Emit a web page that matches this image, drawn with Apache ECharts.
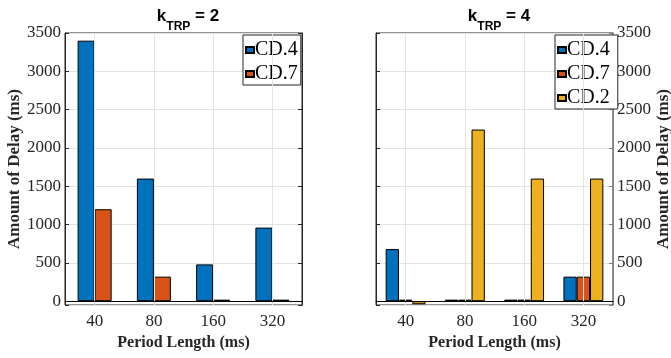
<!DOCTYPE html>
<html>
<head>
<meta charset="utf-8">
<script src="https://cdn.jsdelivr.net/npm/echarts@6/dist/echarts.min.js"></script>
<style>
  html, body { margin: 0; padding: 0; background: #fff; }
  #chart { width: 671px; height: 358px; }
</style>
</head>
<body>
<div id="chart"></div>
<script>
// period lengths (categories)
const periods = ['40', '80', '160', '320'];

// k_TRP = 2
const leftCD4 = [3400, 1600, 480, 960];
const leftCD7 = [1200, 320, 20, 20];

// k_TRP = 4
const rightCD4 = [680, 20, 20, 320];
const rightCD7 = [20, 20, 20, 320];
const rightCD2 = [-40, 2240, 1600, 1600];

const yMin = -50;
const yMax = 3500;
const yStep = 500;

const colors = { cd4: '#0072BD', cd7: '#D95319', cd2: '#EDB120' };
const serif = 'Liberation Serif';
const sans = 'Liberation Sans';
const dark = '#262626';
const gridColor = '#e3e3e3';

const chart = echarts.init(document.getElementById('chart'), null, { renderer: 'canvas' });

// subscript: bottom-aligned in a taller line, so it sits below "k"
const titleRich = {
  k: { fontFamily: sans, fontWeight: 'bold', fontSize: 17, color: '#000', verticalAlign: 'top', lineHeight: 18 },
  sub: { fontFamily: sans, fontWeight: 'bold', fontSize: 12, color: '#000', verticalAlign: 'bottom', lineHeight: 25 },
};

const xAxisBase = (gridIndex) => ({
  type: 'category',
  gridIndex,
  data: periods,
  axisLine: { show: true, lineStyle: { color: dark } },
  axisTick: { show: true, inside: true, alignWithLabel: true, length: 4, lineStyle: { color: dark } },
  axisLabel: { fontFamily: serif, fontSize: 17, color: dark, margin: 8 },
  splitLine: { show: false },
  name: 'Period Length (ms)',
  nameLocation: 'middle',
  nameGap: 30,
  nameTextStyle: { fontFamily: serif, fontWeight: 'bold', fontSize: 16, color: dark },
});

const yAxisBase = (gridIndex, position, withLabels, lineColor, nameGap) => ({
  type: 'value',
  gridIndex,
  position,
  min: yMin,
  max: yMax,
  minInterval: yStep,
  maxInterval: yStep,
  axisLine: { show: true, lineStyle: { color: lineColor } },
  axisTick: { show: true, inside: true, length: 4, lineStyle: { color: lineColor } },
  axisLabel: {
    show: withLabels,
    fontFamily: serif,
    fontSize: 17,
    color: dark,
    margin: 4,
    formatter: (v) => (v < 0 ? '' : String(v)),
  },
  splitLine: { show: withLabels, lineStyle: { color: gridColor } },
  name: withLabels ? 'Amount of Delay (ms)' : '',
  nameLocation: 'middle',
  nameRotate: 90,
  nameGap,
  nameTextStyle: { fontFamily: serif, fontWeight: 'bold', fontSize: 17, color: dark },
});

const zeroLine = {
  silent: true,
  symbol: 'none',
  label: { show: false },
  lineStyle: { color: '#000', width: 1, type: 'solid' },
  data: [{ yAxis: 0 }],
};

// vertical grid lines through the category centres
const vGrid = (xIdx, yIdx) => ({
  type: 'line',
  name: 'grid' + xIdx,
  xAxisIndex: xIdx,
  yAxisIndex: yIdx,
  data: [],
  z: 1,
  silent: true,
  markLine: {
    silent: true,
    symbol: 'none',
    label: { show: false },
    lineStyle: { color: gridColor, width: 1, type: 'solid' },
    data: periods.map((p) => ({ xAxis: p })),
  },
});

const barSeries = (name, data, color, xIdx, yIdx, width, withBase) => ({
  name,
  type: 'bar',
  xAxisIndex: xIdx,
  yAxisIndex: yIdx,
  data,
  z: 2,
  barWidth: width,
  barGap: '0%',
  itemStyle: { color, borderColor: '#000', borderWidth: 1 },
  emphasis: { disabled: true },
  markLine: withBase ? zeroLine : undefined,
});

const legendBase = (left, names) => ({
  left,
  top: 35,
  orient: 'vertical',
  data: names,
  icon: 'rect',
  itemWidth: 8,
  itemHeight: 6,
  itemGap: 4,
  padding: [5, 3, 1, 2],
  backgroundColor: '#fff',
  borderColor: dark,
  borderWidth: 1,
  textStyle: { fontFamily: serif, fontSize: 20, color: '#000', padding: [0, 0, 0, -4] },
});

chart.setOption({
  animation: false,
  title: [
    { text: '{k|k}{sub|TRP}{k| = 2}', left: 183, top: 3, textAlign: 'center', textStyle: { rich: titleRich } },
    { text: '{k|k}{sub|TRP}{k| = 4}', left: 494, top: 3, textAlign: 'center', textStyle: { rich: titleRich } },
  ],
  legend: [
    legendBase(243, ['CD.4', 'CD.7']),
    legendBase(555, ['CD.4 ', 'CD.7 ', 'CD.2']),
  ],
  grid: [
    { left: 65, right: 369, top: 33, bottom: 53, outerBoundsMode: 'none', containLabel: false, show: true, borderColor: dark, borderWidth: 1 },
    { left: 376, right: 58, top: 33, bottom: 53, outerBoundsMode: 'none', containLabel: false, show: true, borderColor: dark, borderWidth: 1 },
  ],
  xAxis: [xAxisBase(0), xAxisBase(1)],
  yAxis: [
    yAxisBase(0, 'left', true, dark, 42),
    yAxisBase(0, 'right', false, dark, 0),
    yAxisBase(1, 'right', true, '#808080', 40),
    yAxisBase(1, 'left', false, dark, 0),
  ],
  series: [
    vGrid(0, 0),
    vGrid(1, 2),
    barSeries('CD.4', leftCD4, colors.cd4, 0, 0, 17, true),
    barSeries('CD.7', leftCD7, colors.cd7, 0, 0, 17, false),
    barSeries('CD.4 ', rightCD4, colors.cd4, 1, 2, 13.3, true),
    barSeries('CD.7 ', rightCD7, colors.cd7, 1, 2, 13.3, false),
    barSeries('CD.2', rightCD2, colors.cd2, 1, 2, 13.3, false),
  ],
});
</script>
</body>
</html>
